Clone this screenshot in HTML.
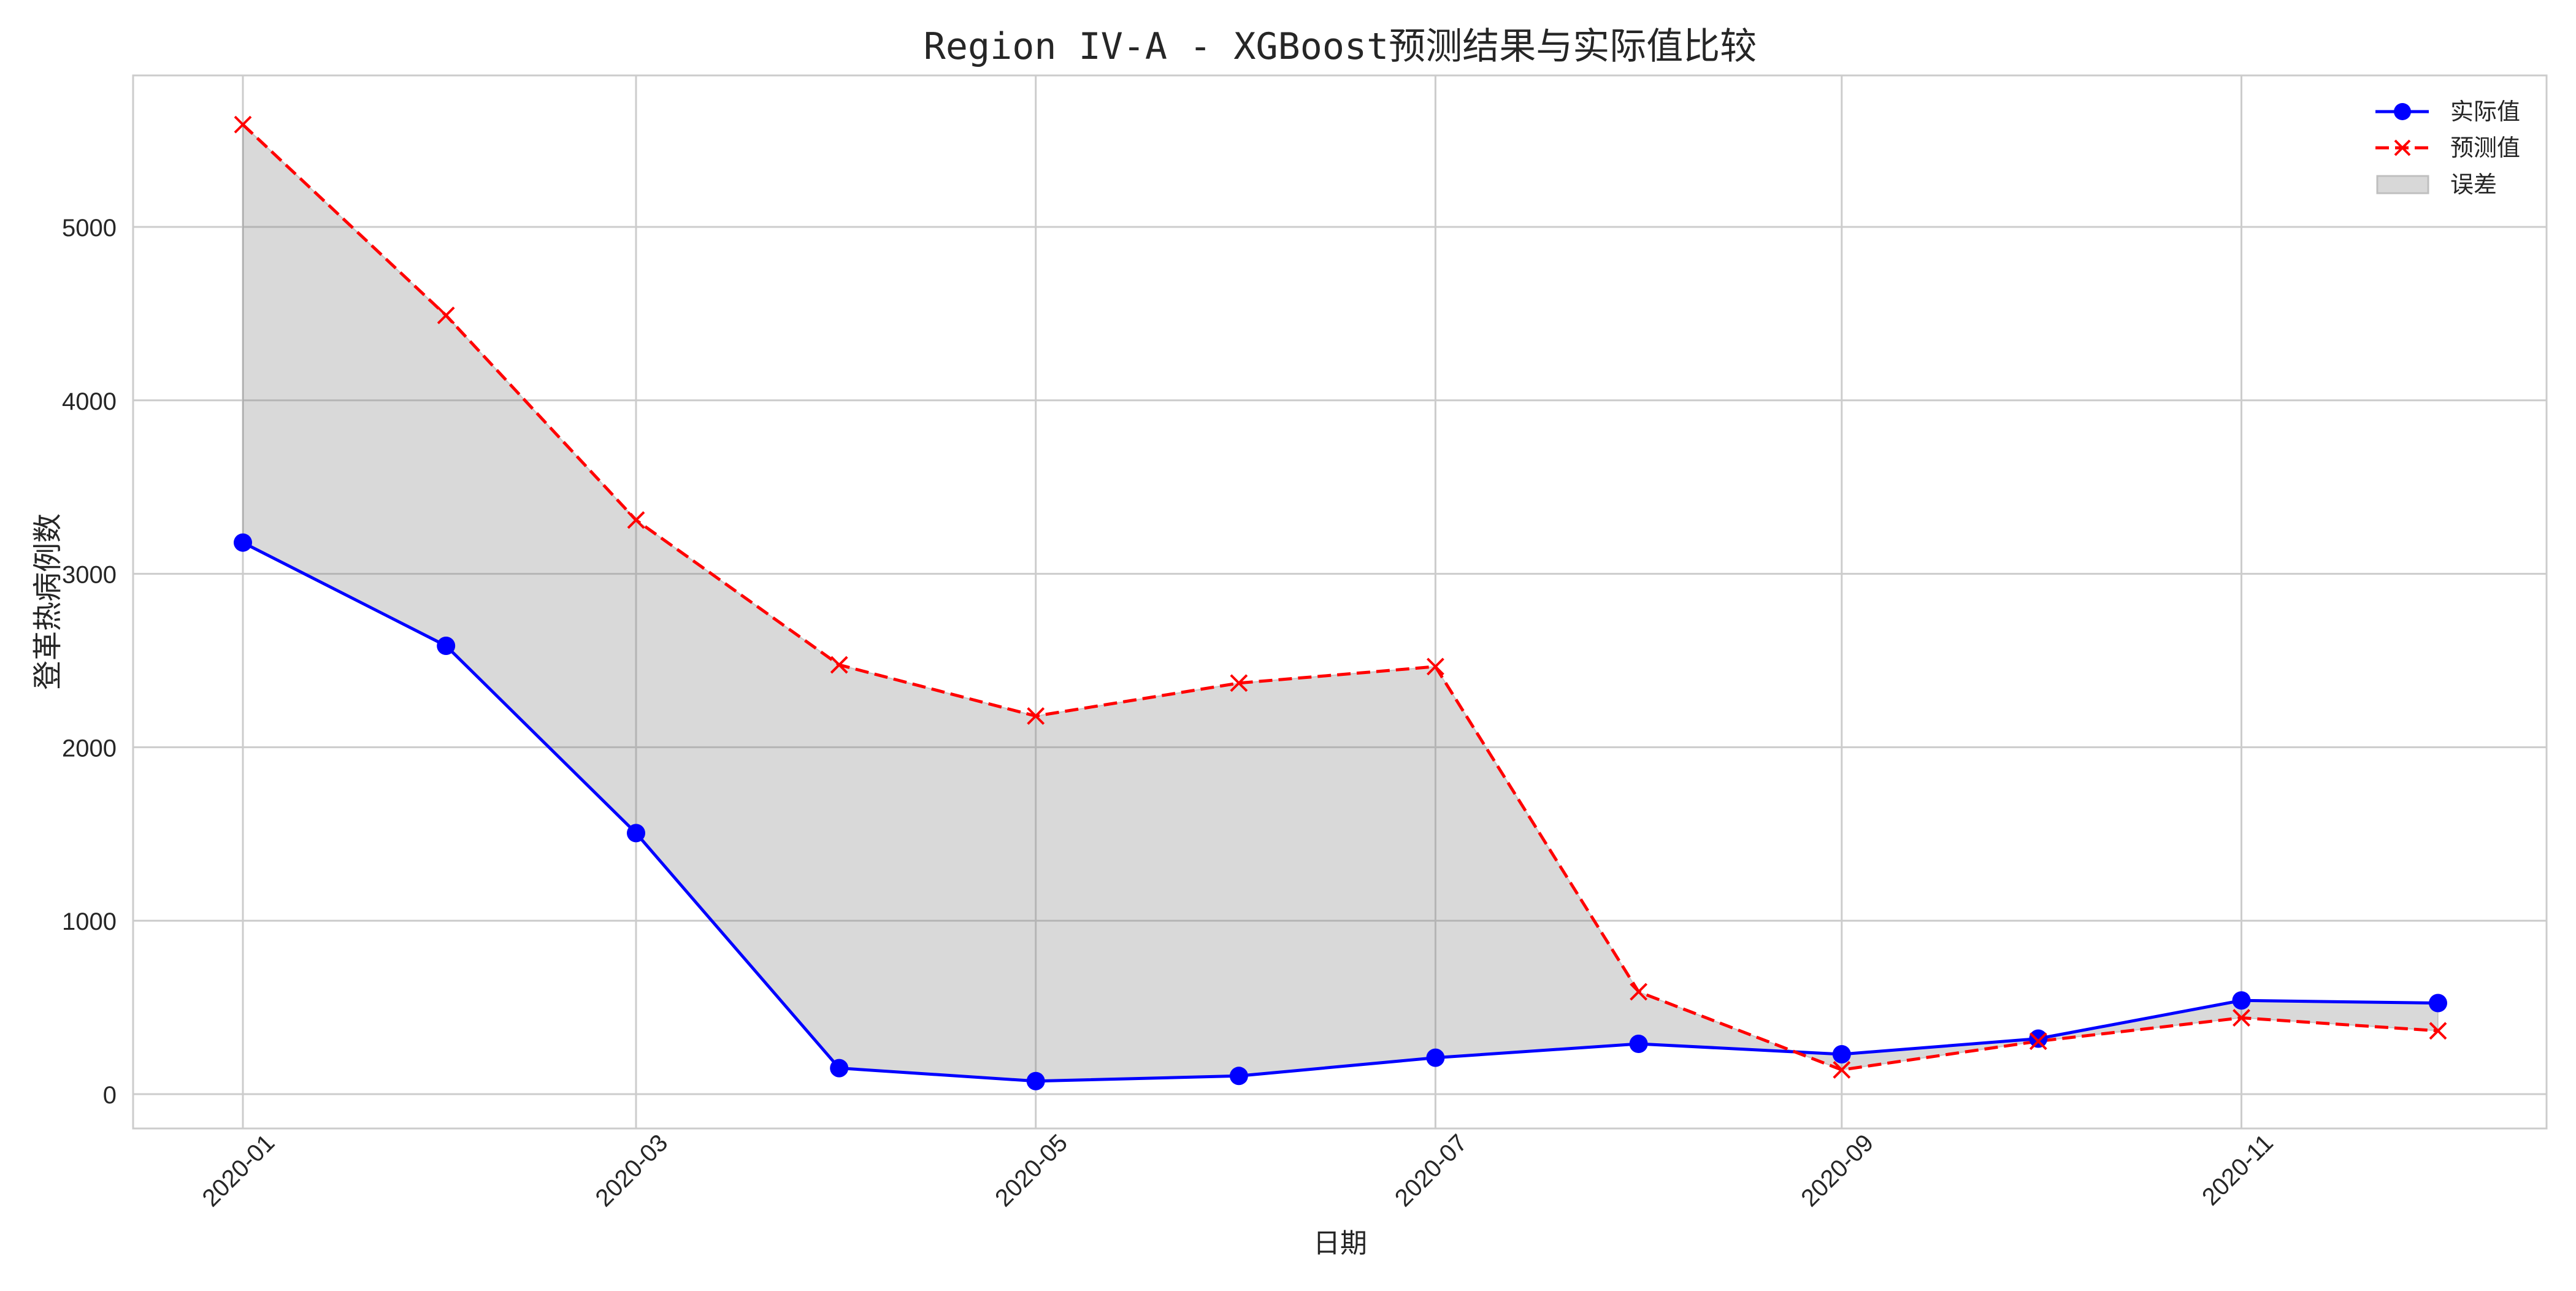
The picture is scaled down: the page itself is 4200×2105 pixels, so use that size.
<!DOCTYPE html>
<html><head><meta charset="utf-8"><style>
html,body{margin:0;padding:0;background:#fff;}
svg text{font-family:"Liberation Sans","Noto Sans CJK SC",sans-serif;fill:#262626;}
</style></head><body>
<svg id="chart" width="4200" height="2100" xmlns="http://www.w3.org/2000/svg">
<rect x="0" y="0" width="4200" height="2100" fill="#fff"/>
<g id="grid"></g>
<g id="fill"></g>
<g id="series"></g>
<rect x="217" y="123" width="3935" height="1717" fill="none" stroke="#cccccc" stroke-width="3"/>
<g id="ticks"></g>
<text x="2185" y="96" text-anchor="middle" font-size="60" style="font-family:'DejaVu Sans Mono','Noto Sans CJK SC',monospace">Region IV-A - XGBoost预测结果与实际值比较</text>
<text x="2185" y="2042" text-anchor="middle" font-size="44">日期</text>
<text transform="translate(94,981) rotate(-90)" text-anchor="middle" font-size="48">登革热病例数</text>
<g>
 <g>
  <line x1="3873" y1="182" x2="3960" y2="182" stroke="#0000ff" stroke-width="5"/>
  <circle cx="3917" cy="182" r="14" fill="#0000ff"/>
  <text x="3995" y="195" font-size="38">实际值</text>
 </g>
 <g>
  <line x1="3873" y1="241" x2="3960" y2="241" stroke="#ff0000" stroke-width="5" stroke-dasharray="22,10"/>
  <path d="M3905 229 L3929 253 M3929 229 L3905 253" stroke="#ff0000" stroke-width="4"/>
  <text x="3995" y="254" font-size="38">预测值</text>
 </g>
 <g>
  <rect x="3876" y="287" width="83" height="28" fill="#d8d8d8" stroke="#bfbfbf" stroke-width="3"/>
  <text x="3995" y="314" font-size="38">误差</text>
 </g>
</g>
</svg>
<script>
const months = ["2020-01","2020-02","2020-03","2020-04","2020-05","2020-06","2020-07","2020-08","2020-09","2020-10","2020-11","2020-12"];
const actualValues = [3180, 2585, 1505, 150, 75, 105, 210, 290, 230, 320, 540, 525];
const predictedValues = [5590, 4490, 3310, 2475, 2180, 2370, 2465, 590, 140, 305, 440, 365];
const yTicks = [0, 1000, 2000, 3000, 4000, 5000];
const xTickLabels = ["2020-01","2020-03","2020-05","2020-07","2020-09","2020-11"];

const NS = "http://www.w3.org/2000/svg";
function dayOf(m){const d=new Date(m+"-01T00:00:00Z");return (d-Date.UTC(2020,0,1))/86400000;}
function xs(m){return 396 + dayOf(m)*(3975-396)/335;}
function ys(v){return 1784 - v*(1784-370)/5000;}
function mk(tag, attrs, parent){const e=document.createElementNS(NS,tag);for(const k in attrs)e.setAttribute(k,attrs[k]);parent.appendChild(e);return e;}
const grid=document.getElementById('grid'), ticks=document.getElementById('ticks'), fill=document.getElementById('fill'), series=document.getElementById('series');

yTicks.forEach(v=>{
  const l=mk('line',{x1:217,x2:4152,y1:ys(v),y2:ys(v),stroke:'#cccccc','stroke-width':3},grid);
  
  
  const t=mk('text',{x:190,y:ys(v)+15,'text-anchor':'end','font-size':40},ticks);
  t.textContent=v;
  
  
});
xTickLabels.forEach(m=>{
  const x=xs(m);
  const l=mk('line',{x1:x,x2:x,y1:123,y2:1840,stroke:'#cccccc','stroke-width':3},grid);
  
  
  const t=mk('text',{transform:`translate(${x+54},${1866}) rotate(-45)`,'text-anchor':'end','font-size':40},ticks);
  t.textContent=m;
  
  
});

let d="M"+months.map((m,i)=>xs(m)+","+ys(predictedValues[i])).join(" L");
for(let i=months.length-1;i>=0;i--) d+=" L"+xs(months[i])+","+ys(actualValues[i]);
d+=" Z";
const area=mk('path',{d:d,fill:'#808080','fill-opacity':0.3,stroke:'#808080','stroke-opacity':0.3,'stroke-width':2},fill);



const aLine=mk('polyline',{points:months.map((m,i)=>xs(m)+","+ys(actualValues[i])).join(" "),fill:'none',stroke:'#0000ff','stroke-width':5},series);


const pLine=mk('polyline',{points:months.map((m,i)=>xs(m)+","+ys(predictedValues[i])).join(" "),fill:'none',stroke:'#ff0000','stroke-width':5,'stroke-dasharray':'22,10'},series);


months.forEach((m,i)=>{
  const c=mk('circle',{cx:xs(m),cy:ys(actualValues[i]),r:15,fill:'#0000ff'},series);
  
  
  const x=xs(m), y=ys(predictedValues[i]);
  const p=mk('path',{d:`M${x-13} ${y-13} L${x+13} ${y+13} M${x+13} ${y-13} L${x-13} ${y+13}`,stroke:'#ff0000','stroke-width':4},series);
  
  
});
</script>
</body></html>
